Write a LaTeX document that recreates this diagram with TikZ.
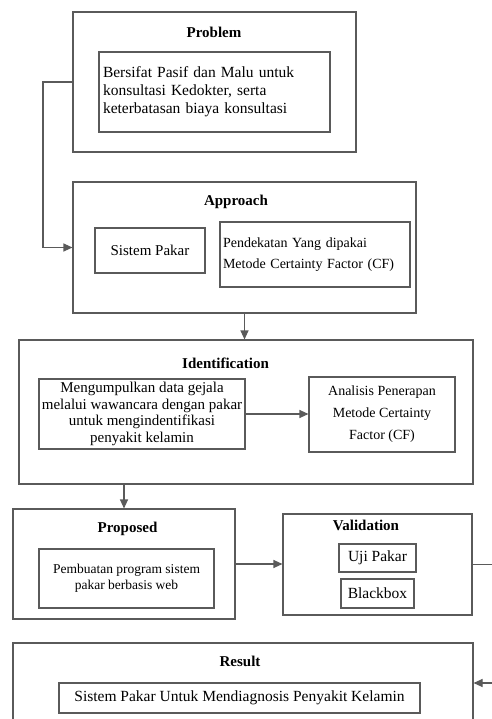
\documentclass[tikz,border=0pt]{standalone}
\usepackage{fontspec}
\setmainfont{Liberation Serif}
\usetikzlibrary{arrows.meta}
\definecolor{linegray}{HTML}{5A5A5A}
\tikzset{
  box/.style={draw=linegray,line width=1.1pt,rectangle,inner sep=0pt},
  ttl/.style={font=\fontsize{15}{18}\selectfont\bfseries},
  conn/.style={draw=linegray,line width=1.1pt},
  arr/.style={conn,-{Triangle[length=9pt,width=8pt]}},
}
\begin{document}
\begin{tikzpicture}[x=1pt,y=-1pt]

      \useasboundingbox (0,0) rectangle (491,719);

      \begin{scope}[every node/.style={box}]
        \node (prob)  at (214.5,82)  [minimum width=283,minimum height=140] {};
        \node (appr)  at (244.5,247.5) [minimum width=343,minimum height=131] {};
        \node (ident) at (246,412)   [minimum width=454,minimum height=144] {};
        \node (prop)  at (124,564)   [minimum width=222,minimum height=110] {};
        \node (valid) at (377.5,564.5) [minimum width=189,minimum height=101] {};
        \node (res)   at (243,683)   [minimum width=460,minimum height=80] {};
      \end{scope}

      \begin{scope}[every node/.style={ttl}]
        \node (probT)  at (214,32)  {Problem};
        \node (apprT)  at (236,202) {Approach};
        \node (identT) at (225.5,363) {Identification};
        \node (propT)  at (127.5,529) {Proposed};
        \node (validT) at (366,525) {Validation};
        \node (resT)   at (240,661) {Result};
      \end{scope}

      \begin{scope}[every node/.style={box}]
        \node (probTxt) at (214.5,92) [text width=223pt,inner xsep=4pt,minimum height=80,align=left,
          font=\fontsize{15.5}{18}\selectfont]
          {Bersifat Pasif dan Malu untuk\\konsultasi Kedokter, serta\\keterbatasan biaya konsultasi};
        \node (sp)   at (150,250.5) [minimum width=110,minimum height=45,font=\fontsize{15}{18}\selectfont]
          {Sistem Pakar};
        \node (cf)   at (315,254.5) [text width=184pt,inner xsep=3pt,minimum height=65,align=left,
          font=\fontsize{14}{21}\selectfont]
          {Pendekatan Yang dipakai\\Metode Certainty Factor (CF)};
        \node (data) at (142,414) [minimum width=206,minimum height=70,align=center,
          font=\fontsize{15}{16.5}\selectfont]
          {Mengumpulkan data gejala\\melalui wawancara dengan pakar\\untuk mengindentifikasi\\penyakit kelamin};
        \node (anl)  at (382,414.5) [minimum width=146,minimum height=75,align=center,
          font=\fontsize{14}{22}\selectfont]
          {Analisis Penerapan\\Metode Certainty\\Factor (CF)};
        \node (web)  at (126.5,578.5) [minimum width=175,minimum height=59,align=center,
          font=\fontsize{13.5}{16}\selectfont]
          {Pembuatan program sistem\\pakar berbasis web};
        \node (uji)  at (377.5,558) [minimum width=77,minimum height=28,font=\fontsize{15.5}{18}\selectfont]
          {Uji Pakar};
        \node (bb)   at (377.5,593.5) [minimum width=73,minimum height=29,font=\fontsize{15.5}{18}\selectfont]
          {Blackbox};
        \node (dx)   at (239.5,698) [minimum width=361,minimum height=30,font=\fontsize{15.5}{18}\selectfont]
          {Sistem Pakar Untuk Mendiagnosis Penyakit Kelamin};
      \end{scope}

      \coordinate (lft) at (43,82);
      \coordinate (rgt) at (500,564.5);

      \path[arr] (prob.west) -- (lft) |- (appr.west);
      \path[arr] (appr.south) -- (appr.south |- ident.north);
      \path[arr] (data.east) -- (data.east -| anl.west);
      \path[arr] (prop.north |- ident.south) -- (prop.north);
      \path[arr] (prop.east) -- (prop.east -| valid.west);
      \path[arr] (valid.east) -- (rgt) |- (res.east);

    \end{tikzpicture}
\end{document}
